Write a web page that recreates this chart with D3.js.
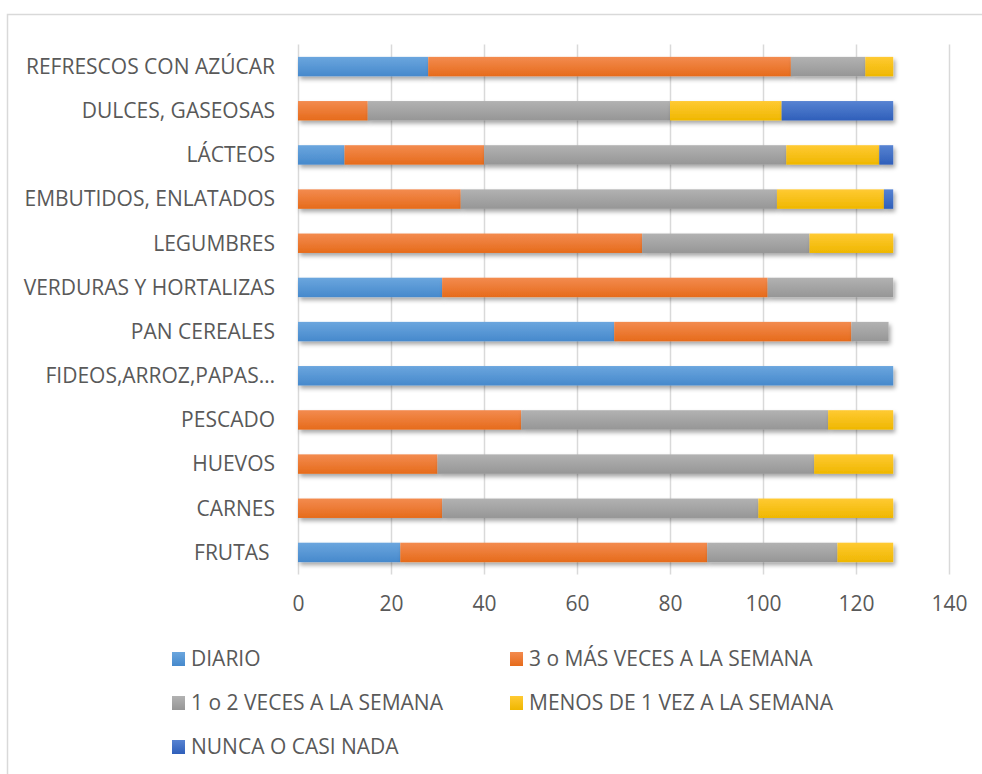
<!DOCTYPE html>
<html>
<head>
<meta charset="utf-8">
<script src="https://cdn.jsdelivr.net/npm/d3@7"></script>
<style>
  html, body { margin: 0; padding: 0; background: #ffffff; }
  svg { display: block; }
</style>
</head>
<body>
<svg id="chart" width="982" height="774"></svg>
<script>
// Categories listed bottom to top
const categories = ["FRUTAS ", "CARNES", "HUEVOS", "PESCADO", "FIDEOS,ARROZ,PAPAS…", "PAN CEREALES",
  "VERDURAS Y HORTALIZAS", "LEGUMBRES", "EMBUTIDOS, ENLATADOS", "LÁCTEOS", "DULCES, GASEOSAS", "REFRESCOS CON AZÚCAR"];
const seriesNames = ["DIARIO", "3 o MÁS VECES A LA SEMANA", "1 o 2 VECES A LA SEMANA", "MENOS DE 1 VEZ A LA SEMANA", "NUNCA O CASI NADA"];
const diario   = [22,  0,  0,  0, 128, 68, 31,  0,  0, 10,  0, 28];
const tresMas  = [66, 31, 30, 48,   0, 51, 70, 74, 35, 30, 15, 78];
const unoDos   = [28, 68, 81, 66,   0,  8, 27, 36, 68, 65, 65, 16];
const menos    = [12, 29, 17, 14,   0,  0,  0, 18, 23, 20, 24,  6];
const nunca    = [ 0,  0,  0,  0,   0,  0,  0,  0,  2,  3, 24,  0];
const xTicks = [0, 20, 40, 60, 80, 100, 120, 140];

const seriesValues = [diario, tresMas, unoDos, menos, nunca];
const colorsTop = ["#6ba6de", "#f38b4f", "#b2b2b2", "#ffca33", "#5783d2"];
const colorsBot = ["#4689cc", "#e66b1b", "#969696", "#efb700", "#2f5fba"];

const svg = d3.select("#chart");
const FONT = "'Open Sans', 'Liberation Sans', sans-serif";
const TXT = "#595959";
const FS = "21px";

// Frame
svg.append("rect").attr("x", 7.5).attr("y", 14.5).attr("width", 1000).attr("height", 800)
  .attr("fill", "#ffffff").attr("stroke", "#d9d9d9").attr("stroke-width", 1.5);

const defs = svg.append("defs");
seriesNames.forEach((s, i) => {
  const g = defs.append("linearGradient").attr("id", "grad" + i)
    .attr("x1", 0).attr("y1", 0).attr("x2", 0).attr("y2", 1);
  g.append("stop").attr("offset", "0%").attr("stop-color", colorsTop[i]);
  g.append("stop").attr("offset", "100%").attr("stop-color", colorsBot[i]);
});
const f = defs.append("filter").attr("id", "shadow").attr("x", "-10%").attr("y", "-30%").attr("width", "130%").attr("height", "190%");
f.append("feDropShadow").attr("dx", 2).attr("dy", 3).attr("stdDeviation", 2)
  .attr("flood-color", "#000").attr("flood-opacity", 0.35);

const plotTop = 44.5, plotBottom = 574.5, plotLeft = 298, plotRight = 949;
const x = d3.scaleLinear().domain([0, 140]).range([plotLeft, plotRight]);
const y = d3.scaleBand().domain(categories).range([plotBottom, plotTop])
  .paddingInner(0.56).paddingOuter(0.28);

// Gridlines
svg.append("g").attr("transform", `translate(0,${plotBottom})`)
  .call(d3.axisBottom(x).tickValues(xTicks).tickSize(-(plotBottom - plotTop)).tickFormat(""))
  .call(g => g.select(".domain").remove())
  .call(g => g.selectAll("line").attr("stroke", "#d9d9d9").attr("stroke-width", 1.5));

// Tick labels
svg.append("g").attr("transform", `translate(0,${plotBottom})`)
  .call(d3.axisBottom(x).tickValues(xTicks).tickSize(0).tickPadding(22))
  .call(g => g.select(".domain").remove())
  .call(g => g.selectAll("text").attr("fill", TXT).style("font-family", FONT).style("font-size", FS));

// Stacked data
const table = categories.map((c, i) => {
  const o = { cat: c };
  seriesNames.forEach((s, j) => o[s] = seriesValues[j][i]);
  return o;
});
const stacked = d3.stack().keys(seriesNames)(table);

const layers = svg.append("g").selectAll("g").data(stacked).join("g")
  .attr("fill", (d, i) => `url(#grad${i})`).attr("filter", "url(#shadow)");
layers.selectAll("rect").data(d => d.filter(p => p[1] - p[0] > 0)).join("rect")
  .attr("x", d => x(d[0]))
  .attr("width", d => x(d[1]) - x(d[0]))
  .attr("y", d => y(d.data.cat))
  .attr("height", y.bandwidth());

// Category labels
svg.append("g").selectAll("text").data(categories).join("text")
  .attr("x", 275)
  .attr("y", d => y(d) + y.bandwidth() / 2)
  .attr("dy", "0.35em")
  .attr("text-anchor", "end")
  .style("white-space", "pre")
  .attr("fill", TXT).style("font-family", FONT).style("font-size", FS)
  .text(d => d);

// Legend
const legendPos = [[172, 659], [510, 659], [172, 703], [510, 703], [172, 747]];
const leg = svg.append("g").selectAll("g").data(seriesNames).join("g")
  .attr("transform", (d, i) => `translate(${legendPos[i][0]},${legendPos[i][1]})`);
leg.append("rect").attr("x", 0).attr("y", -7).attr("width", 13).attr("height", 14)
  .attr("fill", (d, i) => `url(#grad${i})`);
leg.append("text").attr("x", 19).attr("y", 0).attr("dy", "0.35em")
  .attr("fill", TXT).style("font-family", FONT).style("font-size", FS)
  .text(d => d);
</script>
</body>
</html>
